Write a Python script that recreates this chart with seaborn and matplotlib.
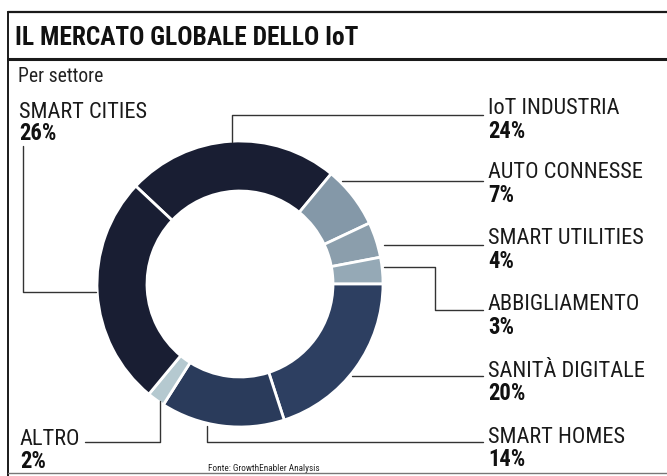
import matplotlib
matplotlib.use("Agg")
import matplotlib.pyplot as plt
import seaborn as sns
from matplotlib import font_manager as fm

# ---- data ----
categories = ["IoT INDUSTRIA", "AUTO CONNESSE", "SMART UTILITIES", "ABBIGLIAMENTO",
              "SANITÀ DIGITALE", "SMART HOMES", "ALTRO", "SMART CITIES"]
values = [24, 7, 4, 3, 20, 14, 2, 26]
colors = ["#191e33", "#8498a8", "#8b9eac", "#95a9b6",
          "#2d3f61", "#2a3b5b", "#b5c9d0", "#191e33"]
title = "IL MERCATO GLOBALE DELLO IoT"
subtitle = "Per settore"
source = "Fonte: GrowthEnabler Analysis"

sns.set_theme(style="white")

names = {f.name for f in fm.fontManager.ttflist}
cond = None
for cand in ["Roboto Condensed", "Liberation Sans Narrow", "DejaVu Sans Condensed",
             "Open Sans Condensed", "Noto Sans Condensed"]:
    if cand in names:
        cond = cand
        break
if cond is None:
    cond = "Liberation Sans"
plt.rcParams["font.family"] = [cond, "DejaVu Sans"]

W, H = 667, 477
fig = plt.figure(figsize=(W / 100, H / 100), dpi=100)
fig.patch.set_facecolor("white")
ax = fig.add_axes([0, 0, 1, 1])

def Y(y):
    return H - y

cx, cy, R, ring = 240, 285, 143, 50
ax.pie(values, colors=colors, startangle=136.8, counterclock=False,
       radius=R, center=(cx, Y(cy)), frame=True,
       wedgeprops=dict(width=ring, edgecolor="white", linewidth=2.0))
ax.set_xlim(0, W)
ax.set_ylim(0, H)
ax.set_aspect("auto")
ax.axis("off")

fig.canvas.draw()
renderer = fig.canvas.get_renderer()

def fit(x, y, s, target_w, size0, **kw):
    t = ax.text(x, Y(y), s, fontsize=size0, va="center", ha="left", **kw)
    bb = t.get_window_extent(renderer)
    t.set_fontsize(size0 * target_w / bb.width)
    return t.get_fontsize()

# frame lines
lc = "#1a1a1a"
ax.plot([8, W], [Y(13), Y(13)], color=lc, lw=1.6)
ax.plot([8, W], [Y(60), Y(60)], color=lc, lw=2.2)
ax.plot([8, 8], [Y(13), Y(477)], color=lc, lw=1.4)
ax.plot([8, W], [Y(474), Y(474)], color="#777777", lw=1.0)

# title / subtitle
fit(15, 38, title, 342, 22, fontweight="black", color="#111111")
fit(18, 77, subtitle, 85, 12, color="#222222")

# label size derived from reference label width
tmp = ax.text(0, 0, "IoT INDUSTRIA", fontsize=14)
lab_size = 14 * 132 / tmp.get_window_extent(renderer).width
tmp.remove()
tmp = ax.text(0, 0, "24%", fontsize=14, fontweight="black")
pct_size = 14 * 37 / tmp.get_window_extent(renderer).width
tmp.remove()

label_pos = {
    "IoT INDUSTRIA": (488, 108, 131),
    "AUTO CONNESSE": (488, 173, 196),
    "SMART UTILITIES": (488, 239, 261),
    "ABBIGLIAMENTO": (488, 304, 327),
    "SANITÀ DIGITALE": (488, 372, 394),
    "SMART HOMES": (488, 438, 460),
    "ALTRO": (20, 440, 462),
    "SMART CITIES": (19, 112, 133),
}
for cat, v in zip(categories, values):
    x, yn, yp = label_pos[cat]
    ax.text(x, Y(yn), cat, fontsize=lab_size, va="center", ha="left", color="#1a1a1a")
    ax.text(x, Y(yp), f"{v}%", fontsize=pct_size, fontweight="black",
            va="center", ha="left", color="#111111")

# leader lines (layout)
leaders = [
    [(232, 143), (232, 116), (483, 116)],
    [(342, 182), (483, 182)],
    [(384, 246), (483, 246)],
    [(384, 268), (435, 268), (435, 311), (483, 311)],
    [(352, 377), (483, 377)],
    [(207, 427), (207, 443), (483, 443)],
    [(160, 402), (160, 443), (85, 443)],
    [(23, 147), (23, 293), (96, 293)],
]
for pts in leaders:
    xs = [p[0] for p in pts]
    ys = [Y(p[1]) for p in pts]
    ax.plot(xs, ys, color="#333333", lw=1.0)

fit(208, 469, source, 112, 6, color="#222222")

fig.savefig("out.png", dpi=100, facecolor="white")
